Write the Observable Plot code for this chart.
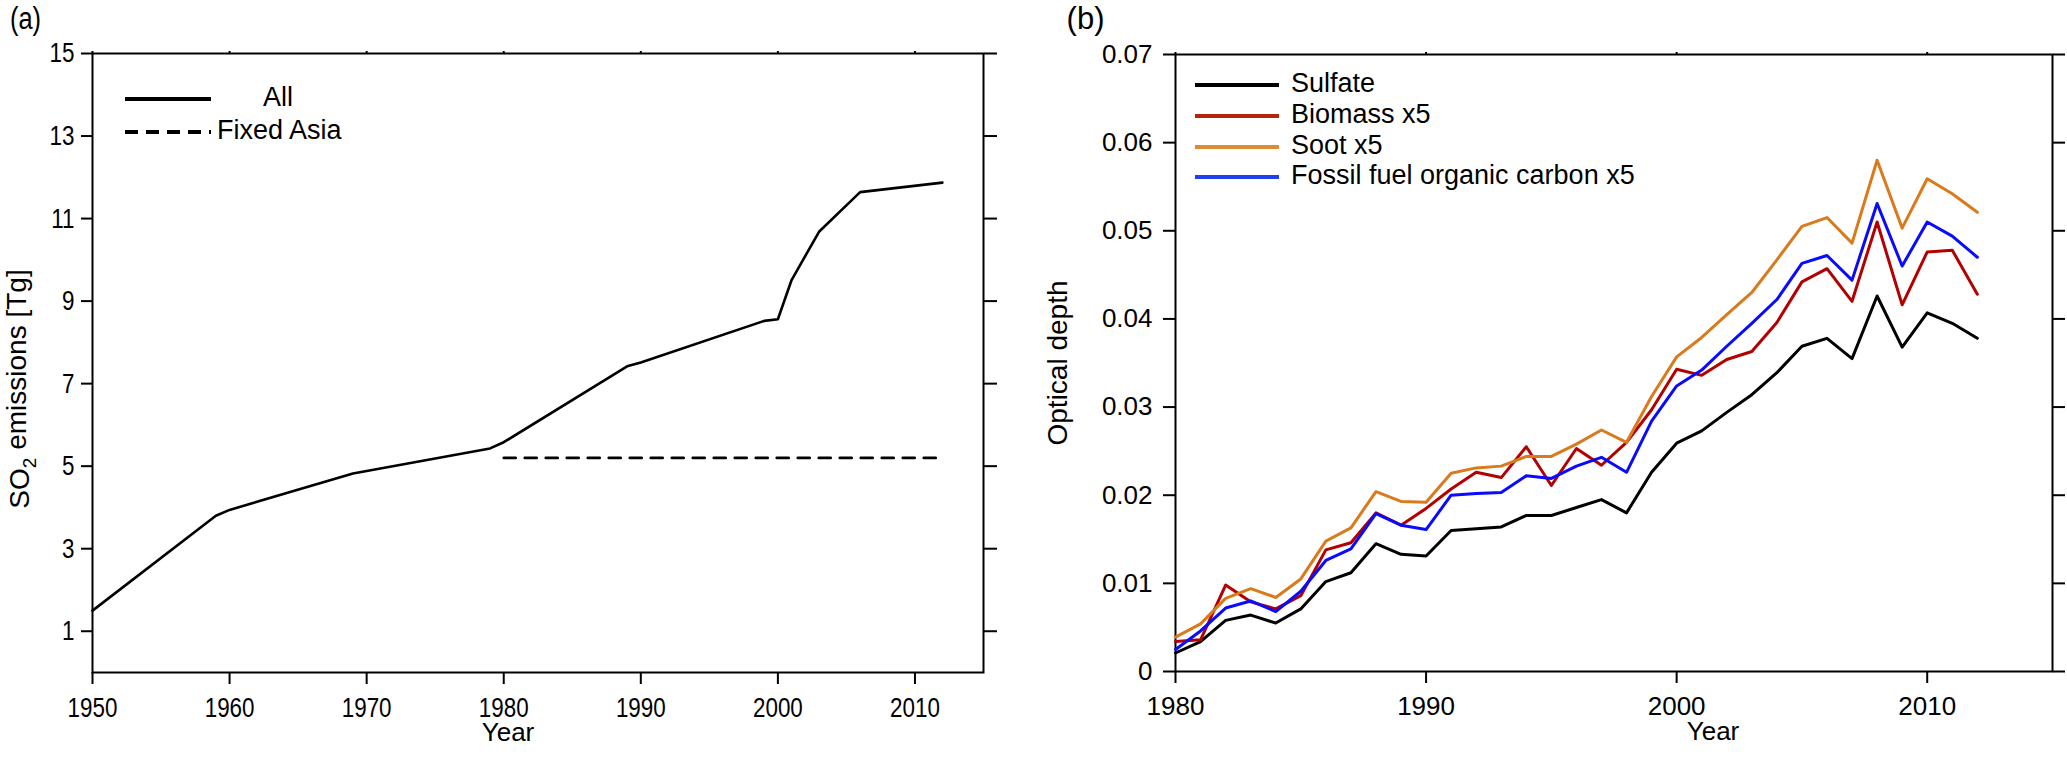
<!DOCTYPE html>
<html>
<head>
<meta charset="utf-8">
<script src="https://cdn.jsdelivr.net/npm/d3@7"></script>
<script src="https://cdn.jsdelivr.net/npm/@observablehq/plot@0.6"></script>
<style>
  html, body { margin: 0; padding: 0; background: #fff; }
  #wrap { position: relative; width: 2067px; height: 758px; overflow: hidden; }
  .panel { position: absolute; top: 0; }
  .leg { position: absolute; color: #000; white-space: nowrap; }
  .leg .sw { position: absolute; }
  .leg .lb { position: absolute; line-height: 1; }
</style>
</head>
<body>
<div id="wrap">
  <div id="pa" class="panel" style="left:0px"></div>
  <div id="pb" class="panel" style="left:1040px"></div>
</div>
<script>
// ---------- Panel (a) data ----------
const yearsAll = [1950, 1959, 1960, 1969, 1979, 1980, 1989, 1990, 1999, 2000, 2001, 2003, 2006, 2012];
const so2All   = [1.5, 3.8, 3.94, 4.82, 5.43, 5.58, 7.42, 7.51, 8.52, 8.56, 9.51, 10.68, 11.64, 11.87];
const yearsFixed = [1980, 2012];
const so2Fixed   = [5.2, 5.2];
const xTicksA = [1950, 1960, 1970, 1980, 1990, 2000, 2010];
const yTicksA = [1, 3, 5, 7, 9, 11, 13, 15];
const legendNamesA = ["All", "Fixed Asia"];

// ---------- Panel (b) data ----------
const yearsB = d3.range(1980, 2013);
const sulfate = [0.0021, 0.0034, 0.0058, 0.0064, 0.0055, 0.0071, 0.0102, 0.0112, 0.0145, 0.0133,
                 0.0131, 0.0160, 0.0162, 0.0164, 0.0177, 0.0177, 0.0186, 0.0195, 0.0180, 0.0226,
                 0.0259, 0.0273, 0.0294, 0.0314, 0.0339, 0.0369, 0.0378, 0.0355, 0.0426, 0.0368,
                 0.0407, 0.0395, 0.0378];
const biomass = [0.0034, 0.0036, 0.0098, 0.0079, 0.0071, 0.0086, 0.0138, 0.0146, 0.0180, 0.0166,
                 0.0185, 0.0207, 0.0226, 0.0220, 0.0255, 0.0211, 0.0253, 0.0234, 0.0260, 0.0297,
                 0.0343, 0.0336, 0.0354, 0.0363, 0.0396, 0.0442, 0.0457, 0.0420, 0.0510, 0.0416,
                 0.0476, 0.0478, 0.0428];
const soot    = [0.0039, 0.0054, 0.0083, 0.0094, 0.0084, 0.0105, 0.0148, 0.0163, 0.0204, 0.0193,
                 0.0192, 0.0225, 0.0231, 0.0233, 0.0244, 0.0244, 0.0258, 0.0274, 0.0260, 0.0312,
                 0.0357, 0.0379, 0.0405, 0.0430, 0.0467, 0.0505, 0.0515, 0.0486, 0.0580, 0.0503,
                 0.0559, 0.0542, 0.0521];
const fossilOC = [0.0025, 0.0046, 0.0072, 0.0080, 0.0068, 0.0091, 0.0126, 0.0139, 0.0179, 0.0166,
                  0.0161, 0.0200, 0.0202, 0.0203, 0.0222, 0.0219, 0.0233, 0.0243, 0.0226, 0.0284,
                  0.0324, 0.0342, 0.0369, 0.0395, 0.0422, 0.0463, 0.0472, 0.0444, 0.0531, 0.0460,
                  0.0510, 0.0494, 0.0470];
const seriesNamesB = ["Sulfate", "Biomass x5", "Soot x5", "Fossil fuel organic carbon x5"];
const seriesColorsB = ["#000000", "#b30000", "#d97a1c", "#0a0aff"];
const legendColorsB = ["#000000", "#b3260e", "#de8c32", "#1f3ff0"];
const xTicksB = [1980, 1990, 2000, 2010];
const yTicksB = [0, 0.01, 0.02, 0.03, 0.04, 0.05, 0.06, 0.07];

const font = "'Liberation Sans', Arial, Helvetica, sans-serif";

// horizontally condense texts via textLength (keeps anchoring)
function condense(sel, k) {
  sel.each(function() {
    const L = this.getComputedTextLength();
    if (L > 0) {
      this.setAttribute("textLength", (L * k).toFixed(2));
      this.setAttribute("lengthAdjust", "spacingAndGlyphs");
    }
  });
}

// ---------- Panel (a) ----------
const tAll = yearsAll.map((year, i) => ({year, value: so2All[i]}));
const tFixed = yearsFixed.map((year, i) => ({year, value: so2Fixed[i]}));

const plotA = Plot.plot({
  width: 1040, height: 758,
  marginLeft: 92, marginRight: 57, marginTop: 53, marginBottom: 86,
  style: {fontFamily: font, fontSize: "28px", color: "#000", background: "transparent", overflow: "visible"},
  x: {domain: [1950, 2015]},
  y: {domain: [0, 15]},
  marks: [
    Plot.axisX({anchor: "bottom", ticks: xTicksA, tickSize: 12, tickPadding: 13, tickFormat: d3.format("d"), label: null, strokeWidth: 2, fontSize: 28}),
    Plot.axisX({anchor: "top", ticks: xTicksA, tickSize: 3, tickFormat: () => "", label: null, strokeWidth: 2}),
    Plot.axisY({anchor: "left", ticks: yTicksA, tickSize: 11, tickPadding: 7, tickFormat: d3.format("d"), label: null, strokeWidth: 2, fontSize: 28}),
    Plot.axisY({anchor: "right", ticks: yTicksA, tickSize: 13, tickFormat: () => "", label: null, strokeWidth: 2}),
    Plot.frame({stroke: "#000", strokeWidth: 2}),
    Plot.line(tFixed, {x: "year", y: "value", stroke: "#000", strokeWidth: 2.6, strokeDasharray: "12,9"}),
    Plot.line(tAll, {x: "year", y: "value", stroke: "#000", strokeWidth: 2.6}),
    Plot.text(["Year"], {text: d => d, frameAnchor: "bottom", dx: -30, dy: 68, fontSize: 26}),
    Plot.text(["SO2 emissions [Tg]"], {text: d => d, frameAnchor: "left", textAnchor: "middle", rotate: -90, dx: -72, dy: 26, fontSize: 28}),
    Plot.text(["(a)"], {text: d => d, frameAnchor: "top-left", textAnchor: "middle", dx: -67, dy: -47, fontSize: 31})
  ]
});
document.getElementById("pa").appendChild(plotA);

condense(d3.select(plotA).selectAll("g[aria-label='x-axis tick label'] text, g[aria-label='y-axis tick label'] text"), 0.8);
condense(d3.select(plotA).selectAll("text").filter(function() { return this.textContent === "(a)"; }), 0.82);

// subscript for SO2
d3.select(plotA).selectAll("text").filter(function() { return this.textContent === "SO2 emissions [Tg]"; })
  .each(function() {
    const t = d3.select(this);
    t.text(null);
    t.append("tspan").text("SO");
    t.append("tspan").attr("font-size", "0.68em").attr("dy", "0.35em").text("2");
    t.append("tspan").attr("dy", "-0.35em").text(" emissions [Tg]");
  });

// ---------- Panel (b) ----------
const seriesB = [sulfate, biomass, soot, fossilOC];
const tB = seriesB.flatMap((vals, s) => vals.map((v, i) => ({year: yearsB[i], value: v, series: seriesNamesB[s]})));

const fmtB = d => d === 0 ? "0" : String(+d.toFixed(2));

const plotB = Plot.plot({
  width: 1027, height: 758,
  marginLeft: 135, marginRight: 15, marginTop: 54, marginBottom: 87,
  style: {fontFamily: font, fontSize: "26px", color: "#000", background: "transparent", overflow: "visible"},
  x: {domain: [1980, 2015]},
  y: {domain: [0, 0.07]},
  color: {domain: seriesNamesB, range: seriesColorsB},
  marks: [
    Plot.axisX({anchor: "bottom", ticks: xTicksB, tickSize: 12, tickPadding: 13, tickFormat: d3.format("d"), label: null, strokeWidth: 2}),
    Plot.axisX({anchor: "top", ticks: xTicksB, tickSize: 3, tickFormat: () => "", label: null, strokeWidth: 2}),
    Plot.axisY({anchor: "left", ticks: yTicksB, tickSize: 12, tickPadding: 11, tickFormat: fmtB, label: null, strokeWidth: 2}),
    Plot.axisY({anchor: "right", ticks: yTicksB, tickSize: 12, tickFormat: () => "", label: null, strokeWidth: 2}),
    Plot.frame({stroke: "#000", strokeWidth: 2}),
    Plot.line(tB, {x: "year", y: "value", z: "series", stroke: "series", strokeWidth: 3}),
    Plot.text(["Year"], {text: d => d, frameAnchor: "bottom", dx: 99, dy: 68, fontSize: 26}),
    Plot.text(["Optical depth"], {text: d => d, frameAnchor: "left", textAnchor: "middle", rotate: -90, dx: -117, dy: 0, fontSize: 28}),
    Plot.text(["(b)"], {text: d => d, frameAnchor: "top-left", textAnchor: "middle", dx: -90, dy: -48, fontSize: 31})
  ]
});
document.getElementById("pb").appendChild(plotB);

// ---------- Legends (HTML overlays) ----------
const wrap = document.getElementById("wrap");
function addLegendRow(x, y, w, color, dashed, label, labelX, size, thick) {
  const row = document.createElement("div");
  row.className = "leg";
  row.style.left = "0px"; row.style.top = "0px";
  const sw = document.createElement("div");
  sw.className = "sw";
  sw.style.left = x + "px"; sw.style.top = (y - thick / 2) + "px";
  sw.style.width = w + "px"; sw.style.height = thick + "px";
  sw.style.background = dashed
    ? `repeating-linear-gradient(90deg, ${color} 0 13px, transparent 13px 21px)`
    : color;
  const lb = document.createElement("div");
  lb.className = "lb";
  lb.style.fontFamily = font;
  lb.style.fontSize = size + "px";
  lb.style.left = labelX + "px";
  lb.style.top = (y - size * 0.56) + "px";
  lb.textContent = label;
  row.appendChild(sw); row.appendChild(lb);
  wrap.appendChild(row);
}
// panel (a)
addLegendRow(125, 99, 86, "#000", false, legendNamesA[0], 263, 27, 4);
addLegendRow(125, 132, 86, "#000", true, legendNamesA[1], 217, 27, 4);
// panel (b)
const legYB = [85, 116, 147, 177];
seriesNamesB.forEach((name, i) => addLegendRow(1195, legYB[i], 84, legendColorsB[i], false, name, 1291, 27, 4));
</script>
</body>
</html>
